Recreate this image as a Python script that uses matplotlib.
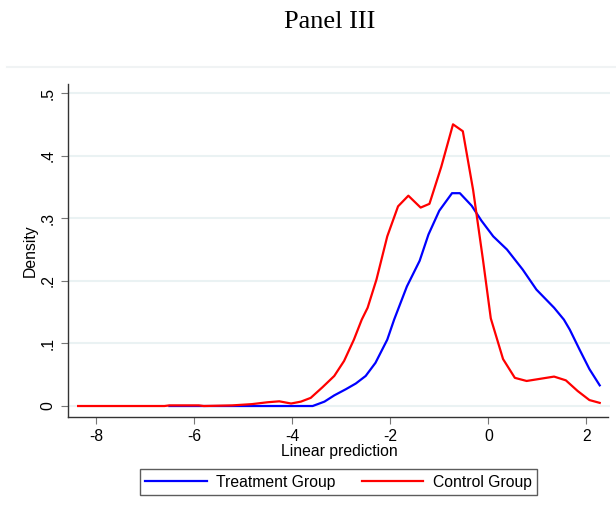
import matplotlib.pyplot as plt
from matplotlib.lines import Line2D

# treatment group density
treat_x = [-6.50, -5.00, -3.58, -3.34, -3.14, -2.90, -2.70, -2.50, -2.30, -2.06,
           -1.92, -1.66, -1.40, -1.22, -1.00, -0.74, -0.58, -0.34, -0.14, 0.10,
           0.38, 0.70, 0.98, 1.34, 1.54, 1.66, 1.86, 2.06, 2.27]
treat_y = [0.000, 0.000, 0.000, 0.007, 0.017, 0.027, 0.036, 0.048, 0.069, 0.106,
           0.138, 0.191, 0.232, 0.274, 0.312, 0.340, 0.340, 0.320, 0.296, 0.271,
           0.250, 0.218, 0.186, 0.157, 0.138, 0.122, 0.090, 0.059, 0.033]

# control group density
ctrl_x = [-8.36, -6.60, -6.50, -5.90, -5.80, -5.22, -4.82, -4.50, -4.26, -4.02,
          -3.82, -3.62, -3.38, -3.14, -2.94, -2.74, -2.58, -2.46, -2.28, -2.06,
          -1.84, -1.63, -1.38, -1.20, -0.96, -0.72, -0.52, -0.31, -0.11, 0.05,
          0.30, 0.54, 0.78, 1.02, 1.34, 1.58, 1.82, 2.06, 2.27]
ctrl_y = [0.000, 0.000, 0.001, 0.001, 0.000, 0.001, 0.003, 0.006, 0.0075, 0.004,
          0.007, 0.013, 0.030, 0.048, 0.072, 0.106, 0.138, 0.157, 0.202, 0.271,
          0.319, 0.336, 0.317, 0.323, 0.382, 0.450, 0.439, 0.345, 0.234, 0.140,
          0.075, 0.045, 0.040, 0.043, 0.047, 0.041, 0.024, 0.0095, 0.005]

xticks = [-8, -6, -4, -2, 0, 2]
yticks = [0, 0.1, 0.2, 0.3, 0.4, 0.5]
ytick_labels = ['0', '.1', '.2', '.3', '.4', '.5']

plt.rcParams['font.family'] = ['Liberation Sans', 'DejaVu Sans']
plt.rcParams['axes.unicode_minus'] = False

fig = plt.figure(figsize=(6.16, 5.12), dpi=100)
ax = fig.add_axes([0.1109, 0.1861, 0.8794, 0.6498])

fig.text(0.536, 0.957, 'Panel III', ha='center', va='center',
         fontsize=19, family='Liberation Serif')
fig.add_artist(Line2D([7 / 616, 1], [1 - 67 / 512] * 2, color='#f0f3f4', lw=1.5))

for y in yticks:
    ax.axhline(y, color='#eaf2f3', lw=1.5, zorder=0)

ax.plot(treat_x, treat_y, color='blue', lw=1.6, label='Treatment Group')
ax.plot(ctrl_x, ctrl_y, color='red', lw=1.6, label='Control Group')

ax.set_xlim(-8.56, 2.48)
ax.set_ylim(-0.0171, 0.5144)
ax.set_xticks(xticks)
ax.set_yticks(yticks)
ax.set_yticklabels(ytick_labels, rotation=90, va='center')
ax.tick_params(axis='both', length=5, color='#777777', labelsize=11.3, pad=4)
ax.spines['top'].set_visible(False)
ax.spines['right'].set_visible(False)
for s in ['left', 'bottom']:
    ax.spines[s].set_color('#333333')
    ax.spines[s].set_linewidth(1)
ax.spines['bottom'].set_bounds(-8.56, 2.43)

ax.set_xlabel('Linear prediction', fontsize=11.3, labelpad=0)
ax.set_ylabel('Density', fontsize=11.3, labelpad=2)

fig.legend(loc='center', bbox_to_anchor=(338.5 / 616, 1 - 482 / 512), ncol=2,
           frameon=True, fancybox=False, edgecolor='#333333', fontsize=11.3,
           handlelength=3.9, handletextpad=0.6, columnspacing=1.7,
           borderpad=0.35)

fig.savefig('out.png', dpi=100)
